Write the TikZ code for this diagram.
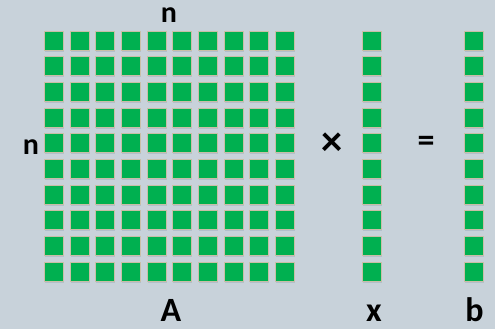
\documentclass[tikz,border=0pt]{standalone}
\usepackage{fontspec}
\setmainfont{Carlito}
\usetikzlibrary{shadows}
\definecolor{bgc}{HTML}{C8D2DA}
\definecolor{cellg}{HTML}{00B050}
\definecolor{celledge}{HTML}{C9BFA6}
\definecolor{shadc}{HTML}{A9B8C6}
\tikzset{
  cell/.style={rectangle, minimum width=19pt, minimum height=19pt, inner sep=0pt,
    fill=cellg, draw=celledge, line width=0.6pt,
    drop shadow={shadow xshift=0.6pt, shadow yshift=-1.6pt, fill=shadc, opacity=0.7}},
  dimlbl/.style={font=\fontsize{30}{36}\selectfont\bfseries, inner sep=0pt, anchor=base},
  veclbl/.style={font=\fontsize{34}{40}\selectfont\bfseries, inner sep=0pt, anchor=base, text depth=0pt},
  oplbl/.style={font=\fontsize{34}{40}\selectfont\bfseries, inner sep=0pt}
}
\begin{document}
\begin{tikzpicture}[x=1pt,y=-1pt]
\fill[bgc] (0,0) rectangle (495,329);
\useasboundingbox (0,0) rectangle (495,329);
\foreach \i in {0,...,9}{
  \foreach \j in {0,...,9}{
    \node[cell] (A-\i-\j) at ({53.8+\j*25.67},{40.5+\i*25.67}) {};
  }
  \node[cell] (x-\i) at (372,{40.5+\i*25.67}) {};
  \node[cell] (b-\i) at (473.5,{40.5+\i*25.67}) {};
}
\node[dimlbl] (ntop) at (169,23) {n};
\node[dimlbl] (nleft) at (31,154) {n};
\node[oplbl, scale=1.25] (times) at (332.5,144) {×};
\node[oplbl] (eq) at (426,144) {\textbf{=}};
\node[veclbl] (lA) at (171,321) {A};
\node[veclbl] (lx) at (374,321) {x};
\node[veclbl] (lb) at (474.5,321) {b};
\end{tikzpicture}
\end{document}
